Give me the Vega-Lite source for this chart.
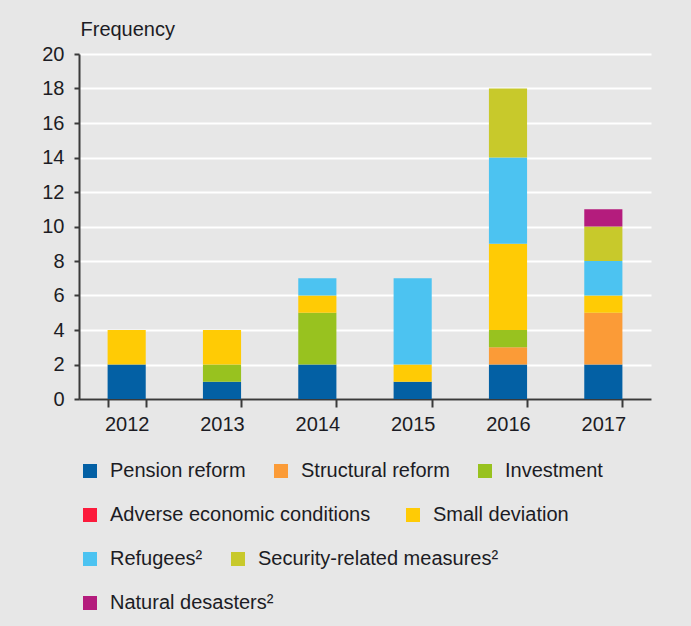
{
  "$schema": "https://vega.github.io/schema/vega-lite/v6.json",
  "autosize": "none",
  "width": 572,
  "height": 345,
  "padding": {"left": 79, "top": 54, "right": 40, "bottom": 227},
  "background": "#e7e7e7",
  "config": {
    "view": {"stroke": null},
    "font": "Liberation Sans",
    "legend": {
      "orient": "none",
      "direction": "horizontal",
      "symbolType": "square",
      "symbolSize": 196,
      "symbolStrokeWidth": 0,
      "symbolOpacity": 1,
      "labelFontSize": 20,
      "labelColor": "#1c1c24",
      "labelOffset": 10,
      "labelLimit": 400,
      "columnPadding": 25,
      "title": null
    }
  },
  "data": {
    "values": [
      {"year": "2012", "category": "Pension reform", "count": 2},
      {"year": "2012", "category": "Small deviation", "count": 2},
      {"year": "2013", "category": "Pension reform", "count": 1},
      {"year": "2013", "category": "Investment", "count": 1},
      {"year": "2013", "category": "Small deviation", "count": 2},
      {"year": "2014", "category": "Pension reform", "count": 2},
      {"year": "2014", "category": "Investment", "count": 3},
      {"year": "2014", "category": "Small deviation", "count": 1},
      {"year": "2014", "category": "Refugees²", "count": 1},
      {"year": "2015", "category": "Pension reform", "count": 1},
      {"year": "2015", "category": "Small deviation", "count": 1},
      {"year": "2015", "category": "Refugees²", "count": 5},
      {"year": "2016", "category": "Pension reform", "count": 2},
      {"year": "2016", "category": "Structural reform", "count": 1},
      {"year": "2016", "category": "Investment", "count": 1},
      {"year": "2016", "category": "Small deviation", "count": 5},
      {"year": "2016", "category": "Refugees²", "count": 5},
      {"year": "2016", "category": "Security-related measures²", "count": 4},
      {"year": "2017", "category": "Pension reform", "count": 2},
      {"year": "2017", "category": "Structural reform", "count": 3},
      {"year": "2017", "category": "Small deviation", "count": 1},
      {"year": "2017", "category": "Refugees²", "count": 2},
      {"year": "2017", "category": "Security-related measures²", "count": 2},
      {"year": "2017", "category": "Natural desasters²", "count": 1}
    ]
  },
  "transform": [
    {"calculate": "indexof(['Pension reform','Structural reform','Investment','Adverse economic conditions','Small deviation','Refugees²','Security-related measures²','Natural desasters²'], datum.category)", "as": "ord"},
    {"stack": "count", "groupby": ["year"], "sort": [{"field": "ord", "order": "ascending"}], "as": ["y0", "y1"]}
  ],
  "encoding": {
    "x": {
      "field": "year", "type": "nominal",
      "scale": {"paddingInner": 0.6, "paddingOuter": 0.3},
      "axis": {
        "title": null, "labelAngle": 0, "labelFontSize": 20, "labelColor": "#1c1c24",
        "domainColor": "#3a3a3a", "domainWidth": 2, "tickColor": "#3a3a3a", "tickWidth": 2,
        "tickSize": 8, "tickBand": "extent", "labelPadding": 7, "grid": false
      }
    },
    "y": {
      "field": "y1", "type": "quantitative",
      "scale": {"domain": [0, 20], "nice": false},
      "axis": {
        "values": [0, 2, 4, 6, 8, 10, 12, 14, 16, 18, 20],
        "title": "Frequency", "titleAngle": 0, "titleAlign": "left", "titleBaseline": "middle",
        "titleX": 1, "titleY": -25, "titleFontSize": 20, "titleFontWeight": "normal", "titleColor": "#1c1c24",
        "labelFontSize": 20, "labelColor": "#1c1c24", "labelPadding": 10,
        "domainColor": "#3a3a3a", "domainWidth": 2, "tickColor": "#3a3a3a", "tickWidth": 2, "tickSize": 5,
        "grid": true, "gridColor": "#ffffff", "gridWidth": 2
      }
    },
    "y2": {"field": "y0"}
  },
  "layer": [
    {
      "transform": [{"filter": {"field": "category", "oneOf": ["Pension reform", "Structural reform", "Investment"]}}],
      "mark": "bar",
      "encoding": {
        "color": {"field": "category", "type": "nominal",
          "scale": {"domain": ["Pension reform", "Structural reform", "Investment"], "range": ["#0360a4", "#fb9b37", "#98c21f"]},
          "legend": {"legendX": 1, "legendY": 407}}
      }
    },
    {
      "transform": [{"filter": {"field": "category", "oneOf": ["Adverse economic conditions", "Small deviation"]}}],
      "mark": "bar",
      "encoding": {
        "color": {"field": "category", "type": "nominal",
          "scale": {"domain": ["Adverse economic conditions", "Small deviation"], "range": ["#fc1b3c", "#ffcb05"]},
          "legend": {"legendX": 1, "legendY": 451, "columnPadding": 32}}
      }
    },
    {
      "transform": [{"filter": {"field": "category", "oneOf": ["Refugees²", "Security-related measures²"]}}],
      "mark": "bar",
      "encoding": {
        "color": {"field": "category", "type": "nominal",
          "scale": {"domain": ["Refugees²", "Security-related measures²"], "range": ["#4cc3f1", "#c8c92b"]},
          "legend": {"legendX": 1, "legendY": 495}}
      }
    },
    {
      "transform": [{"filter": {"field": "category", "oneOf": ["Natural desasters²"]}}],
      "mark": "bar",
      "encoding": {
        "color": {"field": "category", "type": "nominal",
          "scale": {"domain": ["Natural desasters²"], "range": ["#b41c7d"]},
          "legend": {"legendX": 1, "legendY": 539}}
      }
    }
  ],
  "resolve": {"scale": {"color": "independent"}, "legend": {"color": "independent"}}
}
